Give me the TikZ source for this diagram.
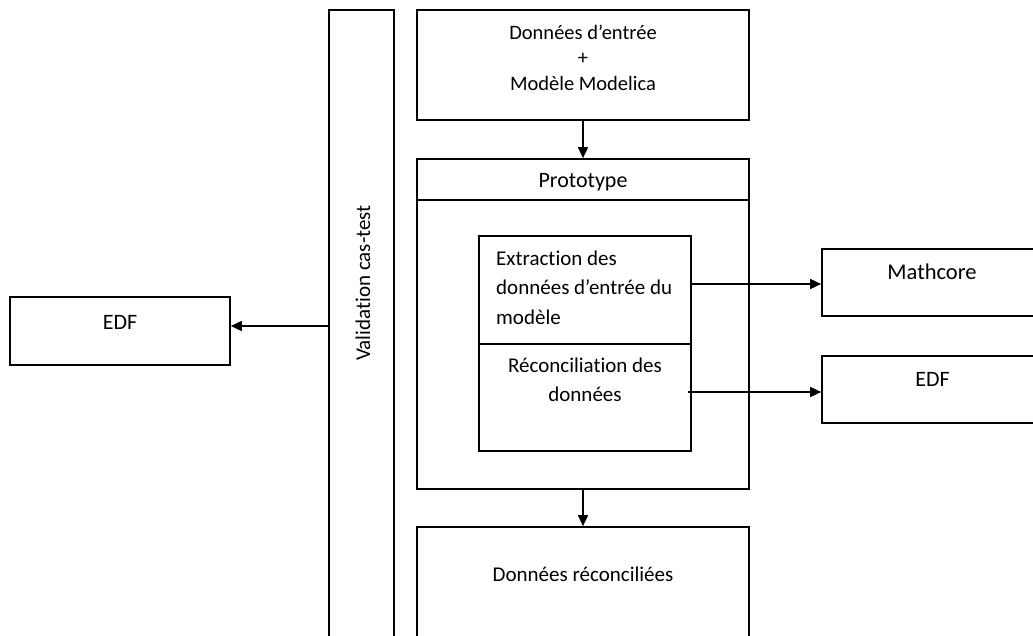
\documentclass[tikz,border=0pt]{standalone}
\usepackage{fontspec}
\setmainfont{Carlito}[RawFeature={-liga;-clig;-calt}]
\usetikzlibrary{arrows.meta}
\tikzset{
  box/.style={draw, line width=1.7pt, inner sep=0pt, minimum width=#1},
  lbl/.style={inner sep=0pt, font=\fontsize{21}{25.5}\selectfont},
  arr/.style={line width=1.7pt, -{Triangle[length=11pt,width=10pt]}},
}
\begin{document}
\begin{tikzpicture}[x=1pt,y=-1pt]
\path[use as bounding box] (0,0) rectangle (1033,636);
\clip (0,0) rectangle (1033,636);
% boxes
\node[box=65pt, minimum height=640pt] (val) at (361.5,330) {};
\node[box=332pt, minimum height=110pt] (inp) at (583,65) {};
\node[box=332pt, minimum height=330pt] (proto) at (583,324) {};
\node[box=212pt, minimum height=215pt] (inner) at (585,343.5) {};
\node[box=228pt, minimum height=67pt] (math) at (936,282.5) {};
\node[box=228pt, minimum height=67pt] (edfr) at (936,389.5) {};
\node[box=220pt, minimum height=68pt] (edfl) at (120,331) {};
\node[box=332pt, minimum height=123pt] (rec) at (583,588.5) {};
% dividers
\coordinate (d1) at (0,200);
\coordinate (d2) at (0,344);
\draw[line width=1.7pt] (proto.west |- d1) -- (proto.east |- d1);
\draw[line width=1.7pt] (inner.west |- d2) -- (inner.east |- d2);
% texts
\node[lbl, rotate=90] (valt) at (363,283) {Validation cas-test};
\node[lbl, align=center, font=\fontsize{20.5}{25.5}\selectfont] (inpt) at (583,57.5) {Données d’entrée\\+\\Modèle Modelica};
\node[lbl, font=\fontsize{22}{26}\selectfont] (protot) at (583,182) {Prototype};
\node[lbl, align=left, anchor=west, font=\fontsize{21}{29.5}\selectfont] (extt) at (496,287.5) {Extraction des\\données d’entrée du\\modèle};
\node[lbl, align=center, font=\fontsize{21}{29}\selectfont] (rect) at (585,379.5) {Réconciliation des\\données};
\node[lbl, font=\fontsize{22.5}{27}\selectfont] (matht) at (932,272) {Mathcore};
\node[lbl, font=\fontsize{22}{26}\selectfont] (edfrt) at (932.5,379) {EDF};
\node[lbl, font=\fontsize{22}{26}\selectfont] (edflt) at (120,322) {EDF};
\node[lbl] (rect2) at (583,574) {Données réconciliées};
% connectors
\coordinate (s1) at (691,284);
\coordinate (s2) at (688,392);
\coordinate (s3) at (329,326);
\draw[arr] (inp.south) -- (proto.north);
\draw[arr] (proto.south) -- (rec.north);
\draw[arr] (s1) -- (math.west |- s1);
\draw[arr] (s2) -- (edfr.west |- s2);
\draw[arr] (s3) -- (edfl.east |- s3);
\end{tikzpicture}
\end{document}
